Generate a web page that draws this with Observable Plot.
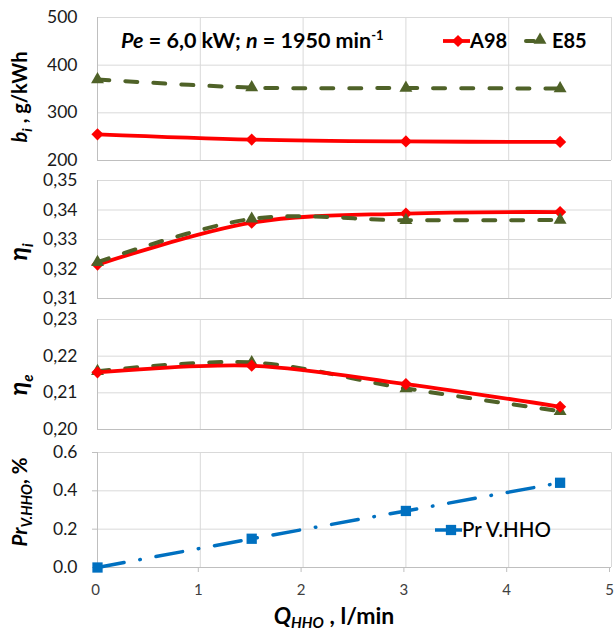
<!DOCTYPE html>
<html>
<head>
<meta charset="utf-8">
<script src="https://cdn.jsdelivr.net/npm/d3@7"></script>
<script src="https://cdn.jsdelivr.net/npm/@observablehq/plot@0.6"></script>
<style>
  html, body { margin: 0; padding: 0; background: #ffffff; }
  #chart { position: relative; width: 614px; height: 634px; font-family: Lato, "Noto Sans", sans-serif; }
  #chart > svg { position: absolute; left: 0; top: 0; }
</style>
</head>
<body>
<div id="chart"></div>
<script>
// ---- data ----
const qValues = [0, 1.5, 3, 4.5];            // Q_HHO, l/min
const biA98 = [255, 244, 240, 239];          // b_i, g/kWh
const biE85 = [370, 353, 352, 351];
const etaIA98 = [0.3215, 0.3357, 0.3388, 0.3393];
const etaIE85 = [0.3223, 0.3370, 0.3365, 0.3366];
const etaEA98 = [0.2156, 0.2174, 0.2124, 0.2062];
const etaEE85 = [0.2159, 0.2183, 0.2112, 0.2050];
const prVHHO = [0.0, 0.15, 0.295, 0.442];    // Pr V.HHO, %
const xTicks = [0, 1, 2, 3, 4, 5];
const biTicks = [200, 300, 400, 500];
const etaITicks = [0.31, 0.32, 0.33, 0.34, 0.35];
const etaETicks = [0.20, 0.21, 0.22, 0.23];
const prTicks = [0.0, 0.2, 0.4, 0.6];
const seriesNames = ["A98", "E85", "Pr V.HHO"];

const rows = arr => qValues.map((q, i) => ({q, v: arr[i]}));

const W = 614, H = 634, ML = 97, MR = 3;
const RED = "#ff0000", GREEN = "#4f6228", BLUE = "#0070c0";
const GRID = "#d9d9d9", AXIS = "#bfbfbf";
const FONT = 'Lato, "Noto Sans", sans-serif';

const comma2 = d => d.toFixed(2).replace(".", ",");

function a98Marks(data) {
  return [
    Plot.line(data, {x: "q", y: "v", stroke: RED, strokeWidth: 3.8, curve: "catmull-rom"}),
    Plot.dot(data, {x: "q", y: "v", symbol: "diamond2", r: 5.5, fill: RED, stroke: null})
  ];
}
function e85Marks(data) {
  return [
    Plot.line(data, {x: "q", y: "v", stroke: GREEN, strokeWidth: 4, strokeDasharray: "12,16", strokeLinecap: "round", curve: "catmull-rom"}),
    Plot.dot(data, {x: "q", y: "v", symbol: "triangle", r: 4.8, fill: GREEN, stroke: null})
  ];
}

function panel({top, bottom, domain, ticks, format, marks, xAxis = false, yTickSize = 0}) {
  return Plot.plot({
    width: W, height: H,
    marginTop: top, marginBottom: H - bottom, marginLeft: ML, marginRight: MR,
    style: {background: "transparent", fontFamily: FONT, overflow: "visible"},
    x: {domain: [0, 5], axis: null},
    y: {domain, axis: null},
    marks: [
      Plot.gridX([1, 2, 3, 4, 5], {stroke: GRID, strokeOpacity: 1}),
      Plot.gridY(ticks, {stroke: GRID, strokeOpacity: 1}),
      Plot.ruleX([0], {stroke: AXIS}),
      Plot.ruleY([domain[0]], {stroke: AXIS}),
      Plot.axisY(ticks, {tickSize: yTickSize, tickPadding: 20 - yTickSize, fontSize: 17.5, tickFormat: format, label: null, stroke: AXIS, fill: "#1a1a1a"}),
      ...(xAxis ? [Plot.axisX(xTicks, {tickSize: 5, tickPadding: 12, fontSize: 15, label: null, stroke: AXIS, fill: "#404040", dx: -2})] : []),
      ...marks
    ]
  });
}

const chart = document.getElementById("chart");

chart.appendChild(panel({
  top: 17, bottom: 160, domain: [200, 500], ticks: biTicks, format: d => String(d),
  marks: [...a98Marks(rows(biA98)), ...e85Marks(rows(biE85))]
}));
chart.appendChild(panel({
  top: 180, bottom: 298, domain: [0.31, 0.35], ticks: etaITicks, format: comma2,
  marks: [...a98Marks(rows(etaIA98)), ...e85Marks(rows(etaIE85))]
}));
chart.appendChild(panel({
  top: 319, bottom: 429, domain: [0.20, 0.23], ticks: etaETicks, format: comma2,
  marks: [...e85Marks(rows(etaEE85)), ...a98Marks(rows(etaEA98))]
}));
chart.appendChild(panel({
  top: 452, bottom: 567, domain: [0, 0.6], ticks: prTicks, format: d => d.toFixed(1), xAxis: true, yTickSize: 5,
  marks: [
    Plot.line(rows(prVHHO), {x: "q", y: "v", stroke: BLUE, strokeWidth: 3.5, strokeDasharray: "27,16,0.5,16", strokeLinecap: "round"}),
    Plot.dot(rows(prVHHO), {x: "q", y: "v", symbol: "square", r: 5.8, fill: BLUE, stroke: null})
  ]
}));

// ---- titles, annotation and legends (text overlay) ----
const svg = d3.select(chart).append("svg")
  .attr("width", W).attr("height", H)
  .style("font-family", FONT).style("overflow", "visible");

function richText(t, parts) {
  let shift = 0;
  for (const p of parts) {
    const s = t.append("tspan").text(p.t);
    if (p.i) s.style("font-style", "italic");
    if (p.size) s.style("font-size", p.size + "px");
    const target = p.sub ? (p.subShift || 5) : p.sup ? -8 : 0;
    if (target !== shift) { s.attr("dy", target - shift); shift = target; }
  }
  return t;
}

// y titles
function yTitle(cy, parts, size = 20) {
  const t = svg.append("text")
    .attr("transform", `translate(27,${cy}) rotate(-90)`)
    .attr("text-anchor", "middle")
    .style("font-size", size + "px").style("font-weight", "bold").attr("fill", "#000");
  richText(t, parts);
}
yTitle(97, [{t: "b", i: true}, {t: "i", i: true, sub: true, size: 14}, {t: " , g/kWh"}]);
yTitle(252, [{t: "η", i: true}, {t: "i", i: true, sub: true, size: 15, subShift: 6}], 25);
yTitle(385, [{t: "η", i: true}, {t: "e", i: true, sub: true, size: 15, subShift: 6}], 25);
yTitle(502, [{t: "Pr", i: true}, {t: "V.HHO", i: true, sub: true, size: 14.5}, {t: ", %"}], 20.5);

// x title
const xt = svg.append("text")
  .attr("x", 334).attr("y", 624)
  .attr("text-anchor", "middle")
  .style("font-size", "23px").style("font-weight", "bold").attr("fill", "#000");
richText(xt, [{t: "Q", i: true}, {t: "HHO", i: true, sub: true, size: 15, subShift: 4}, {t: " , l/min"}]);

// annotation
const an = svg.append("text")
  .attr("x", 121).attr("y", 48)
  .style("font-size", "21.5px").style("font-weight", "bold").attr("fill", "#000");
richText(an, [{t: "Pe", i: true}, {t: " = 6,0 kW; "}, {t: "n", i: true}, {t: " = 1950 min"}, {t: "-1", sup: true, size: 13}]);

// legend top
const lg = svg.append("g");
lg.append("line").attr("x1", 443).attr("x2", 470).attr("y1", 41).attr("y2", 41).attr("stroke", RED).attr("stroke-width", 3.8);
lg.append("path").attr("transform", "translate(458,41)").attr("d", d3.symbol(d3.symbolDiamond2, Math.PI * 5.5 * 5.5)()).attr("fill", RED);
lg.append("text").attr("x", 470).attr("y", 48).style("font-size", "20px").style("font-weight", "bold").text(seriesNames[0]);
lg.append("line").attr("x1", 526).attr("x2", 534).attr("y1", 41).attr("y2", 41).attr("stroke", GREEN).attr("stroke-width", 4).attr("stroke-linecap", "round");
lg.append("path").attr("transform", "translate(540,40)").attr("d", d3.symbol(d3.symbolTriangle, Math.PI * 4.8 * 4.8)()).attr("fill", GREEN);
lg.append("text").attr("x", 552).attr("y", 48).style("font-size", "20px").style("font-weight", "bold").text(seriesNames[1]);

// legend bottom
const lb = svg.append("g");
lb.append("line").attr("x1", 435).attr("x2", 462).attr("y1", 530).attr("y2", 530).attr("stroke", BLUE).attr("stroke-width", 3.5);
lb.append("path").attr("transform", "translate(451,530)").attr("d", d3.symbol(d3.symbolSquare, Math.PI * 5.8 * 5.8)()).attr("fill", BLUE);
lb.append("text").attr("x", 462).attr("y", 537).style("font-size", "20.5px").style("font-weight", "500").attr("fill", "#000").text(seriesNames[2]);
</script>
</body>
</html>
